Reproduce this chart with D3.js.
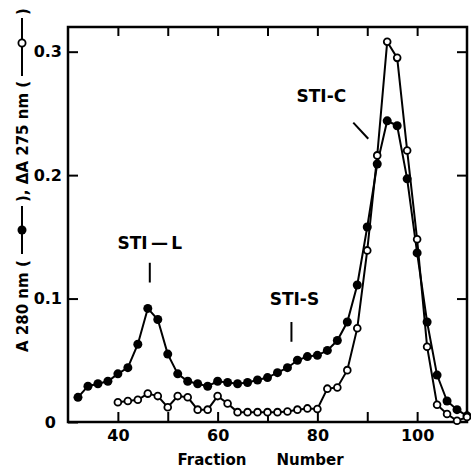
<!DOCTYPE html>
<html>
<head>
<meta charset="utf-8">
<script src="https://cdn.jsdelivr.net/npm/d3@7"></script>
<style>
  body { margin: 0; background: #fff; }
  svg { display: block; }
  text { font-family: "DejaVu Sans", sans-serif; font-weight: bold; fill: #000; }
</style>
</head>
<body>
<div id="chart"></div>
<script>
// A 280 nm (filled circles)
const a280Fractions = [32, 34, 36, 38, 40, 42, 44, 46, 48, 50, 52, 54, 56, 58, 60, 62, 64, 66, 68, 70,
  72, 74, 76, 78, 80, 82, 84, 86, 88, 90, 92, 94, 96, 98, 100, 102, 104, 106, 108, 110];
const a280Values = [0.020, 0.029, 0.031, 0.033, 0.039, 0.044, 0.063, 0.092, 0.083, 0.055,
  0.039, 0.033, 0.031, 0.029, 0.033, 0.032, 0.031, 0.032, 0.034, 0.036,
  0.040, 0.044, 0.050, 0.053, 0.054, 0.058, 0.066, 0.081, 0.111, 0.158,
  0.209, 0.244, 0.240, 0.197, 0.137, 0.081, 0.038, 0.017, 0.010, 0.005];

// delta A 275 nm (open circles)
const dA275Fractions = [40, 42, 44, 46, 48, 50, 52, 54, 56, 58, 60, 62, 64, 66, 68, 70, 72, 74,
  76, 78, 80, 82, 84, 86, 88, 90, 92, 94, 96, 98, 100, 102, 104, 106, 108, 110];
const dA275Values = [0.016, 0.017, 0.018, 0.023, 0.021, 0.012, 0.021, 0.020, 0.010, 0.010,
  0.021, 0.015, 0.008, 0.008, 0.008, 0.008, 0.008, 0.0085, 0.010, 0.011,
  0.0105, 0.027, 0.028, 0.042, 0.076, 0.139, 0.216, 0.308, 0.295, 0.220,
  0.148, 0.061, 0.014, 0.0065, 0.001, 0.004];

const xTicks = [40, 50, 60, 70, 80, 90, 100];
const xTickLabels = [40, 60, 80, 100];
const yTicks = [0, 0.1, 0.2, 0.3];

// peak annotations: label position and marker segment (fraction, absorbance)
const peakNames = ["STI\u2009\u2014\u2009L", "STI-S", "STI-C"];
const peakLabelAt = [[46.4, 0.140], [75.4, 0.095], [80.8, 0.259]];
const peakMarkFrom = [[46.4, 0.129], [74.8, 0.081], [87.2, 0.2425]];
const peakMarkTo = [[46.4, 0.113], [74.8, 0.065], [90.2, 0.2295]];

const width = 471, height = 468;
const plotLeft = 68, plotRight = 467, plotTop = 27, plotBottom = 422;

const svg = d3.select('#chart').append('svg')
  .attr('width', width)
  .attr('height', height);

const x = d3.scaleLinear().domain([30, 110]).range([plotLeft, plotRight]);
const y = d3.scaleLinear().domain([0, 0.32]).range([plotBottom, plotTop]);

// axes, ticks pointing inward
const bottomAxis = d3.axisBottom(x).tickValues(xTicks).tickSizeInner(-10).tickSizeOuter(0).tickPadding(8)
  .tickFormat(d => xTickLabels.includes(d) ? d : "");
const topAxis = d3.axisTop(x).tickValues(xTicks).tickSizeInner(-9).tickSizeOuter(0).tickFormat("");
const leftAxis = d3.axisLeft(y).tickValues(yTicks).tickSizeInner(-10).tickSizeOuter(0).tickPadding(6)
  .tickFormat(d => d === 0 ? "0" : d3.format(".1f")(d));
const rightAxis = d3.axisRight(y).tickValues(yTicks.slice(1)).tickSizeInner(-10).tickSizeOuter(0).tickFormat("");

const gB = svg.append('g').attr('transform', `translate(0,${plotBottom})`).call(bottomAxis);
const gT = svg.append('g').attr('transform', `translate(0,${plotTop})`).call(topAxis);
const gL = svg.append('g').attr('transform', `translate(${plotLeft},0)`).call(leftAxis);
const gR = svg.append('g').attr('transform', `translate(${plotRight},0)`).call(rightAxis);

[gB, gT, gL, gR].forEach(g => {
  g.select('.domain').remove();
  g.selectAll('line').attr('stroke', '#000').attr('stroke-width', 2);
  g.selectAll('text').style('font-size', '16px').attr('font-family', null);
});
gL.selectAll('.tick').filter(d => d === 0).select('text').attr('x', -12);

svg.append('rect')
  .attr('x', plotLeft).attr('y', plotTop)
  .attr('width', plotRight - plotLeft).attr('height', plotBottom - plotTop)
  .attr('fill', 'none').attr('stroke', '#000').attr('stroke-width', 2.5);

// series
const a280 = a280Fractions.map((f, i) => ({ f, v: a280Values[i] }));
const dA275 = dA275Fractions.map((f, i) => ({ f, v: dA275Values[i] }));

const line = d3.line().x(d => x(d.f)).y(d => y(d.v));

svg.append('path').datum(a280)
  .attr('d', line).attr('fill', 'none').attr('stroke', '#000').attr('stroke-width', 2);
svg.append('g').selectAll('circle').data(a280).join('circle')
  .attr('cx', d => x(d.f)).attr('cy', d => y(d.v)).attr('r', 4.5).attr('fill', '#000');

svg.append('path').datum(dA275)
  .attr('d', line).attr('fill', 'none').attr('stroke', '#000').attr('stroke-width', 2);
svg.append('g').selectAll('circle').data(dA275).join('circle')
  .attr('cx', d => x(d.f)).attr('cy', d => y(d.v)).attr('r', 3.4)
  .attr('fill', '#fff').attr('stroke', '#000').attr('stroke-width', 1.8);

// annotations
peakNames.forEach((name, i) => {
  svg.append('text')
    .attr('x', x(peakLabelAt[i][0])).attr('y', y(peakLabelAt[i][1]))
    .attr('text-anchor', 'middle').style('font-size', '17px')
    .text(name);
  svg.append('line')
    .attr('x1', x(peakMarkFrom[i][0])).attr('y1', y(peakMarkFrom[i][1]))
    .attr('x2', x(peakMarkTo[i][0])).attr('y2', y(peakMarkTo[i][1]))
    .attr('stroke', '#000').attr('stroke-width', 2);
});

// axis titles
svg.append('text').attr('x', 212).attr('y', 465).attr('text-anchor', 'middle')
  .style('font-size', '15px').text('Fraction');
svg.append('text').attr('x', 310).attr('y', 465).attr('text-anchor', 'middle')
  .style('font-size', '15px').text('Number');

const yTitle = svg.append('g').attr('transform', 'translate(28,352) rotate(-90)');
const titleBits = [[0, 'A 280 nm ('], [150, '), \u0394A 275 nm ('], [337, ')']];
titleBits.forEach(([pos, t]) => {
  yTitle.append('text').attr('x', pos).attr('y', 0).style('font-size', '15px').text(t);
});
// legend symbols inside the title
yTitle.append('line').attr('x1', 98).attr('x2', 146).attr('y1', -6).attr('y2', -6)
  .attr('stroke', '#000').attr('stroke-width', 2);
yTitle.append('circle').attr('cx', 122).attr('cy', -6).attr('r', 4.5).attr('fill', '#000');
yTitle.append('line').attr('x1', 276).attr('x2', 334).attr('y1', -6).attr('y2', -6)
  .attr('stroke', '#000').attr('stroke-width', 2);
yTitle.append('circle').attr('cx', 309).attr('cy', -6).attr('r', 3.6)
  .attr('fill', '#fff').attr('stroke', '#000').attr('stroke-width', 1.8);
</script>
</body>
</html>
